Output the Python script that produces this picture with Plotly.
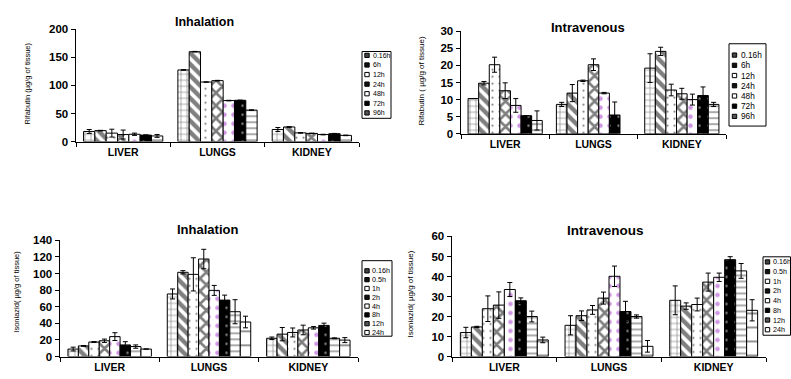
import plotly.graph_objects as go

W, H = 791, 379

organs = ["LIVER", "LUNGS", "KIDNEY"]
rif_times = ["0.16h", "6h", "12h", "24h", "48h", "72h", "96h"]
iso_times = ["0.16h", "0.5h", "1h", "2h", "4h", "8h", "12h", "24h"]

# rows = time points, columns = LIVER, LUNGS, KIDNEY
rif_inh_mean = [[18, 127.5, 21.5], [19.5, 160, 26], [15, 106, 15.5], [12.5, 108.5, 14.5],
                [13, 73, 12.5], [11.5, 73.5, 14], [10, 56, 11]]
rif_inh_err = [[3.5, 0.5, 3.5], [0.5, 0.5, 0.5], [7, 0, 0.5], [8, 0.5, 0.5],
               [2, 0.5, 0.5], [0.5, 0, 0.5], [2.5, 0.5, 0.5]]

rif_iv_mean = [[10.3, 8.6, 19.2], [14.8, 11.9, 24.1], [20.2, 15.5, 12.8], [12.6, 20.2, 11.7],
               [8.3, 11.9, 10.0], [5.3, 5.5, 11.2], [3.9, None, 8.6]]
rif_iv_err = [[0, 0.6, 4.2], [0.5, 2.5, 1.2], [2.2, 0.2, 1.7], [2.3, 1.7, 1.6],
              [2.0, 0.2, 1.6], [0, 3.8, 2.5], [2.8, 0, 0.6]]

iso_inh_mean = [[9, 75.4, 22], [12.8, 101.5, 27], [17.5, 99, 29], [19, 117.5, 32],
                [24, 79.7, 34.6], [14, 68, 37.5], [12, 54, 22], [9, 41.6, 19.8]]
iso_inh_err = [[2.3, 6, 1.5], [0.5, 2, 8], [0.5, 20, 5.4], [2, 11.7, 5.8],
               [4.7, 6, 1.5], [3.9, 6, 2.7], [2, 14.5, 0.5], [0, 7, 3]]

iso_iv_mean = [[12, 15.6, 28.1], [14.8, 20.4, 25.2], [23.9, 23.3, 26], [25.7, 29.2, 37.2],
               [33.5, 40.1, 39.6], [27.9, 22.5, 48.4], [20, 20, 42.8], [8.3, 5.1, 23.1]]
iso_iv_err = [[2.6, 4.8, 7.2], [0.3, 2.4, 1.6], [6.4, 2.2, 3.2], [6.6, 3, 4.5],
              [3.5, 5.1, 2.1], [1.4, 5.1, 1.5], [2.7, 0.8, 3.7], [1.4, 2.9, 5.3]]

FONT = "Arial, Liberation Sans, sans-serif"

# fill styles for the series (style, not data)
pat_styles = [
    dict(shape="+", size=6, solidity=0.2, fgcolor="black", bgcolor="white"),
    dict(shape="\\", size=8, solidity=0.55, fgcolor="black", bgcolor="white"),
    dict(shape=".", size=7, solidity=0.08, fgcolor="black", bgcolor="white"),
    dict(shape="x", size=9, solidity=0.5, fgcolor="black", bgcolor="white"),
    dict(shape=".", size=9, solidity=0.2, fgcolor="#a030c8", bgcolor="white"),
    dict(shape=".", size=9, solidity=0.06, fgcolor="white", bgcolor="black"),
    dict(shape="-", size=6, solidity=0.22, fgcolor="black", bgcolor="white"),
    dict(shape="-", size=14, solidity=0.12, fgcolor="black", bgcolor="white"),
]
swatch_fill = ["#444", "#111", "white", "#111", "white", "black", "#555", "white"]


def X(px):
    return px / W


def Y(py):
    return 1 - py / H


fig = go.Figure()

panels = [
    (rif_times, rif_inh_mean, rif_inh_err, ""),
    (rif_times, rif_iv_mean, rif_iv_err, "2"),
    (iso_times, iso_inh_mean, iso_inh_err, "3"),
    (iso_times, iso_iv_mean, iso_iv_err, "4"),
]

for times, means, errs, sfx in panels:
    for i, t in enumerate(times):
        fig.add_trace(go.Bar(
            x=organs, y=means[i], name=t, showlegend=False,
            xaxis="x" + sfx, yaxis="y" + sfx,
            marker=dict(color="white", line=dict(color="black", width=1),
                        pattern=pat_styles[i]),
            error_y=dict(type="data", array=errs[i], color="black",
                         thickness=1, width=2.5),
        ))

# axes geometry in pixels: (x0, x1, y_bottom, y_top, ymax, dtick)
geom = {
    "": (76, 359, 140, 24, 200, 50),
    "2": (461, 726, 132, 26, 30, 5),
    "3": (60, 358, 362, 242, 140, 20),
    "4": (452, 766, 362, 238, 60, 10),
}

layout = dict(
    width=W, height=H, margin=dict(l=0, r=0, t=0, b=0),
    paper_bgcolor="white", plot_bgcolor="white",
    barmode="group", bargap=0.16, bargroupgap=0,
    font=dict(family=FONT, color="black"),
)
for sfx, (x0, x1, yb, yt, ymax, dt) in geom.items():
    layout["xaxis" + sfx] = dict(
        domain=[X(x0), X(x1)], anchor="y" + sfx,
        showline=True, linecolor="black", linewidth=1.5,
        ticks="outside", tickson="boundaries", ticklen=4, tickcolor="black",
        tickfont=dict(family=FONT, size=10.5, color="black", weight="bold"),
        showgrid=False, zeroline=False, fixedrange=True,
    )
    layout["yaxis" + sfx] = dict(
        domain=[Y(yb), Y(yt)], anchor="x" + sfx, range=[0, ymax], dtick=dt,
        showline=True, linecolor="black", linewidth=1.5,
        ticks="outside", ticklen=4, tickcolor="black",
        tickfont=dict(family=FONT, size=11.5, color="black", weight="bold"),
        showgrid=False, zeroline=False, fixedrange=True,
    )
fig.update_layout(**layout)

annotations = []
for text, cx, cy, sz in [("Inhalation", 204, 17, 12.5), ("Intravenous", 588, 22, 13),
                         ("Inhalation", 208, 231, 13), ("Intravenous", 605, 232, 13.5)]:
    annotations.append(dict(text="<b>%s</b>" % text, x=X(cx), y=Y(cy), xref="paper", yref="paper",
                            showarrow=False, xanchor="center", yanchor="middle",
                            font=dict(family=FONT, size=sz, color="black")))
for text, cx, cy, sz in [("Rifabutin (µg/g of tissue)", 27, 80, 7.5),
                         ("Rifabutin ( µg/g of tissue)", 422, 78, 8),
                         ("Isoniazid( µg/g of tissue)", 17, 295, 7.5),
                         ("Isoniazid( µg/g of tissue)", 411, 298, 8)]:
    annotations.append(dict(text=text, x=X(cx), y=Y(cy), xref="paper", yref="paper",
                            showarrow=False, textangle=-90, xanchor="center", yanchor="middle",
                            font=dict(family=FONT, size=sz, color="black")))

shapes = []
# manual legends: (times, box x0, x1, y0, y1, first row y, row step, swatch cx, text x, font)
legends = [
    (rif_times, 362, 391, 47, 116, 51, 9.9, 367, 370.5, 7),
    (rif_times, 729, 766, 39, 124, 50.7, 10.55, 734.5, 738.5, 8.3),
    (iso_times, 362, 392, 263, 341, 273.5, 9.1, 367, 370, 7.2),
    (iso_times, 763, 790.5, 259, 340, 264.3, 10, 767.5, 770.8, 7.2),
]
for times, bx0, bx1, by0, by1, ry0, rstep, scx, tx, fs in legends:
    shapes.append(dict(type="rect", xref="paper", yref="paper",
                       x0=X(bx0), x1=X(bx1), y0=Y(by1), y1=Y(by0),
                       line=dict(color="black", width=1), fillcolor="white", layer="above"))
    for i, t in enumerate(times):
        ry = ry0 + i * rstep
        shapes.append(dict(type="rect", xref="paper", yref="paper",
                           x0=X(scx - 2.2), x1=X(scx + 2.2), y0=Y(ry + 2.2), y1=Y(ry - 2.2),
                           line=dict(color="black", width=1), fillcolor=swatch_fill[i],
                           layer="above"))
        annotations.append(dict(text=t, x=X(tx), y=Y(ry), xref="paper", yref="paper",
                                showarrow=False, xanchor="left", yanchor="middle",
                                font=dict(family=FONT, size=fs, color="black")))

fig.update_layout(annotations=annotations, shapes=shapes)
fig.write_html("out.html", config=dict(displayModeBar=False, staticPlot=True),
               post_script="document.body.style.margin='0px';")
